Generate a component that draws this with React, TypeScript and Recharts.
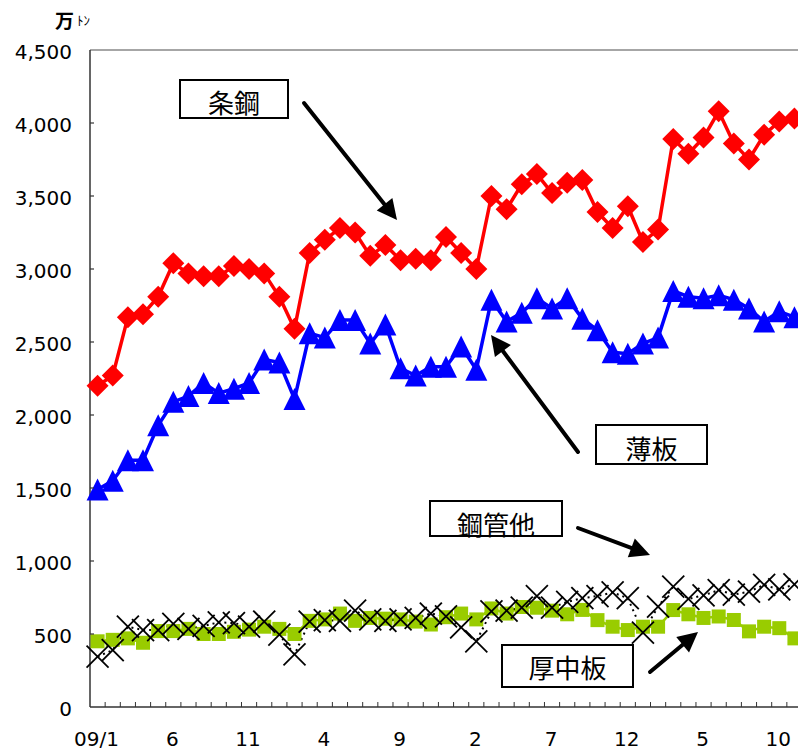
import { LineChart, Line, XAxis, YAxis, ReferenceLine } from "recharts";

// monthly, 2009/1 .. 2012/11
const CATEGORIES = [
  "09/1", "2", "3", "4", "5", "6", "7", "8", "9", "10", "11", "12",
  "1", "2", "3", "4", "5", "6", "7", "8", "9", "10", "11", "12",
  "1", "2", "3", "4", "5", "6", "7", "8", "9", "10", "11", "12",
  "1", "2", "3", "4", "5", "6", "7", "8", "9", "10", "11",
];

// 条鋼 (万トン)
const BAR_STEEL = [
  2200, 2270, 2670, 2690, 2810, 3040, 2970, 2950, 2950, 3020, 3000, 2970,
  2810, 2590, 3110, 3200, 3280, 3250, 3090, 3165, 3060, 3070, 3060, 3220,
  3110, 3000, 3500, 3410, 3580, 3650, 3520, 3590, 3610, 3390, 3280, 3430,
  3185, 3270, 3890, 3790, 3900, 4080, 3860, 3750, 3920, 4010, 4030,
];

// 薄板
const SHEET = [
  1490, 1550, 1690, 1690, 1930, 2090, 2130, 2220, 2150, 2180, 2220, 2380,
  2360, 2110, 2560, 2530, 2650, 2650, 2490, 2620, 2320, 2270, 2330, 2330,
  2470, 2310, 2790, 2640, 2700, 2800, 2730, 2800, 2660, 2580, 2430, 2420,
  2490, 2530, 2850, 2810, 2800, 2820, 2790, 2730, 2640, 2710, 2670,
];

// 厚中板
const PLATE = [
  450, 460, 470, 440, 520, 520, 535, 500, 500, 515, 530, 550,
  535, 500, 590, 600, 640, 590, 610, 605, 600, 585, 565, 615,
  640, 600, 675, 640, 685, 680, 660, 635, 665, 595, 550, 527,
  550, 550, 664, 635, 610, 620, 596, 518, 550, 540, 470,
];

// 鋼管他
const PIPE = [
  345, 390, 550, 527, 527, 570, 535, 555, 580, 575, 550, 585,
  495, 360, 585, 595, 590, 660, 600, 590, 600, 610, 640, 620,
  545, 450, 655, 660, 680, 760, 680, 720, 745, 760, 785, 745,
  510, 687, 824, 740, 765, 800, 770, 790, 836, 805, 840,
];

const Y_TICKS = [0, 500, 1000, 1500, 2000, 2500, 3000, 3500, 4000, 4500];

const data = CATEGORIES.map((label, i) => ({
  label,
  bar: BAR_STEEL[i],
  sheet: SHEET[i],
  plate: PLATE[i],
  pipe: PIPE[i],
}));

const NUM_FONT = "'DejaVu Sans', sans-serif";
const JP_FONT = "'Noto Sans CJK JP', sans-serif";

const CHART_W = 810;
const CHART_H = 750;
const PLOT_LEFT = 90;
const PLOT_RIGHT = 802;
const BAND = (PLOT_RIGHT - PLOT_LEFT) / CATEGORIES.length;

function Diamond(props: any) {
  const { cx, cy, index } = props;
  if (cx == null || cy == null) return <g key={`d${index}`} />;
  const r = 11;
  return (
    <polygon
      key={`d${index}`}
      points={`${cx},${cy - r} ${cx + r},${cy} ${cx},${cy + r} ${cx - r},${cy}`}
      fill="#FF0000"
    />
  );
}

function Triangle(props: any) {
  const { cx, cy, index } = props;
  if (cx == null || cy == null) return <g key={`t${index}`} />;
  const r = 11;
  return (
    <polygon
      key={`t${index}`}
      points={`${cx},${cy - r} ${cx + r},${cy + r} ${cx - r},${cy + r}`}
      fill="#0000FF"
    />
  );
}

function Square(props: any) {
  const { cx, cy, index } = props;
  if (cx == null || cy == null) return <g key={`s${index}`} />;
  return <rect key={`s${index}`} x={cx - 7} y={cy - 7} width={14} height={14} fill="#99CC00" />;
}

function Cross(props: any) {
  const { cx, cy, index } = props;
  if (cx == null || cy == null) return <g key={`x${index}`} />;
  const r = 11;
  return (
    <g key={`x${index}`} stroke="#000" strokeWidth={1.8}>
      <line x1={cx - r} y1={cy - r} x2={cx + r} y2={cy + r} />
      <line x1={cx - r} y1={cy + r} x2={cx + r} y2={cy - r} />
    </g>
  );
}

function XTick(props: any) {
  const { x, y, payload, index } = props;
  const i = payload?.index ?? index;
  return (
    <g>
      <line x1={x + BAND / 2} y1={y} x2={x + BAND / 2} y2={y - 5} stroke="#333" strokeWidth={1} />
      {i % 5 === 0 && (
        <text x={x - 1} y={y + 39} textAnchor="middle" fontFamily={NUM_FONT} fontSize={20} fill="#000">
          {payload.value}
        </text>
      )}
    </g>
  );
}

function YTick(props: any) {
  const { x, y, payload } = props;
  return (
    <g>
      {payload.value > 0 && payload.value < 4500 && (
        <line x1={x} y1={y} x2={x + 4} y2={y} stroke="#333" strokeWidth={1.2} />
      )}
      <text x={x - 18} y={y + 9} textAnchor="end" fontFamily={NUM_FONT} fontSize={20} fill="#000">
        {payload.value.toLocaleString("en-US")}
      </text>
    </g>
  );
}

function Arrow({ x1, y1, x2, y2 }: { x1: number; y1: number; x2: number; y2: number }) {
  const dx = x2 - x1;
  const dy = y2 - y1;
  const len = Math.hypot(dx, dy);
  const ux = dx / len;
  const uy = dy / len;
  const hl = 20;
  const hw = 10;
  const bx = x2 - ux * hl;
  const by = y2 - uy * hl;
  return (
    <g>
      <line x1={x1} y1={y1} x2={bx + ux * 2} y2={by + uy * 2} stroke="#000" strokeWidth={4} strokeLinecap="round" />
      <polygon
        points={`${x2},${y2} ${bx - uy * hw},${by + ux * hw} ${bx + uy * hw},${by - ux * hw}`}
        fill="#000"
      />
    </g>
  );
}

function LabelBox({ x, y, w, h, text, ty }: { x: number; y: number; w: number; h: number; text: string; ty: number }) {
  return (
    <g>
      <rect x={x} y={y} width={w} height={h} fill="#fff" stroke="#000" strokeWidth={2} />
      <text x={x + w / 2} y={ty} textAnchor="middle" fontFamily={JP_FONT} fontSize={26} fill="#000">
        {text}
      </text>
    </g>
  );
}

export default function App() {
  return (
    <div style={{ position: "fixed", left: 0, top: 0, width: 798, height: 750, overflow: "hidden", background: "#fff" }}>
      <LineChart width={CHART_W} height={CHART_H} data={data} margin={{ top: 50, right: CHART_W - PLOT_RIGHT, bottom: 0, left: 0 }}>
        <XAxis
          dataKey="label"
          interval={0}
          height={43}
          padding={{ left: BAND / 2, right: BAND / 2 }}
          tickSize={0}
          tickMargin={0}
          tick={<XTick />}
          axisLine={{ stroke: "#333", strokeWidth: 1.5 }}
          tickLine={false}
        />
        <YAxis
          domain={[0, 4500]}
          ticks={Y_TICKS}
          width={PLOT_LEFT}
          tickSize={0}
          tickMargin={0}
          tick={<YTick />}
          axisLine={{ stroke: "#333", strokeWidth: 1.5 }}
          tickLine={false}
          allowDataOverflow
        />
        <ReferenceLine y={4500} stroke="#888" strokeWidth={1.5} />
        <Line
          dataKey="bar"
          stroke="#FF0000"
          strokeWidth={3.5}
          dot={(p: any) => <Diamond {...p} />}
          activeDot={false}
          isAnimationActive={false}
        />
        <Line
          dataKey="sheet"
          stroke="#0000FF"
          strokeWidth={3.5}
          dot={(p: any) => <Triangle {...p} />}
          activeDot={false}
          isAnimationActive={false}
        />
        <Line
          dataKey="plate"
          stroke="#99CC00"
          strokeWidth={2.5}
          dot={(p: any) => <Square {...p} />}
          activeDot={false}
          isAnimationActive={false}
        />
        <Line
          dataKey="pipe"
          stroke="#000"
          strokeWidth={2}
          strokeDasharray="2 4"
          dot={(p: any) => <Cross {...p} />}
          activeDot={false}
          isAnimationActive={false}
        />
      </LineChart>
      <svg width={798} height={750} style={{ position: "absolute", left: 0, top: 0, pointerEvents: "none" }}>
        <text x={55} y={28} fontFamily={JP_FONT} fontSize={19} fontWeight={700} fill="#000">万</text>
        <text x={77} y={25} fontFamily={JP_FONT} fontSize={13} fill="#000">ﾄﾝ</text>

        <LabelBox x={180} y={80} w={108} h={38} text="条鋼" ty={113} />
        <Arrow x1={304} y1={103} x2={397} y2={220} />

        <LabelBox x={596} y={425} w={111} h={39} text="薄板" ty={459} />
        <Arrow x1={578} y1={452} x2={491} y2={335} />

        <LabelBox x={430} y={501} w={132} h={35} text="鋼管他" ty={535} />
        <Arrow x1={578} y1={528} x2={650} y2={555} />

        <LabelBox x={502} y={645} w={131} h={42} text="厚中板" ty={678} />
        <Arrow x1={650} y1={672} x2={698} y2={632} />
      </svg>
    </div>
  );
}
